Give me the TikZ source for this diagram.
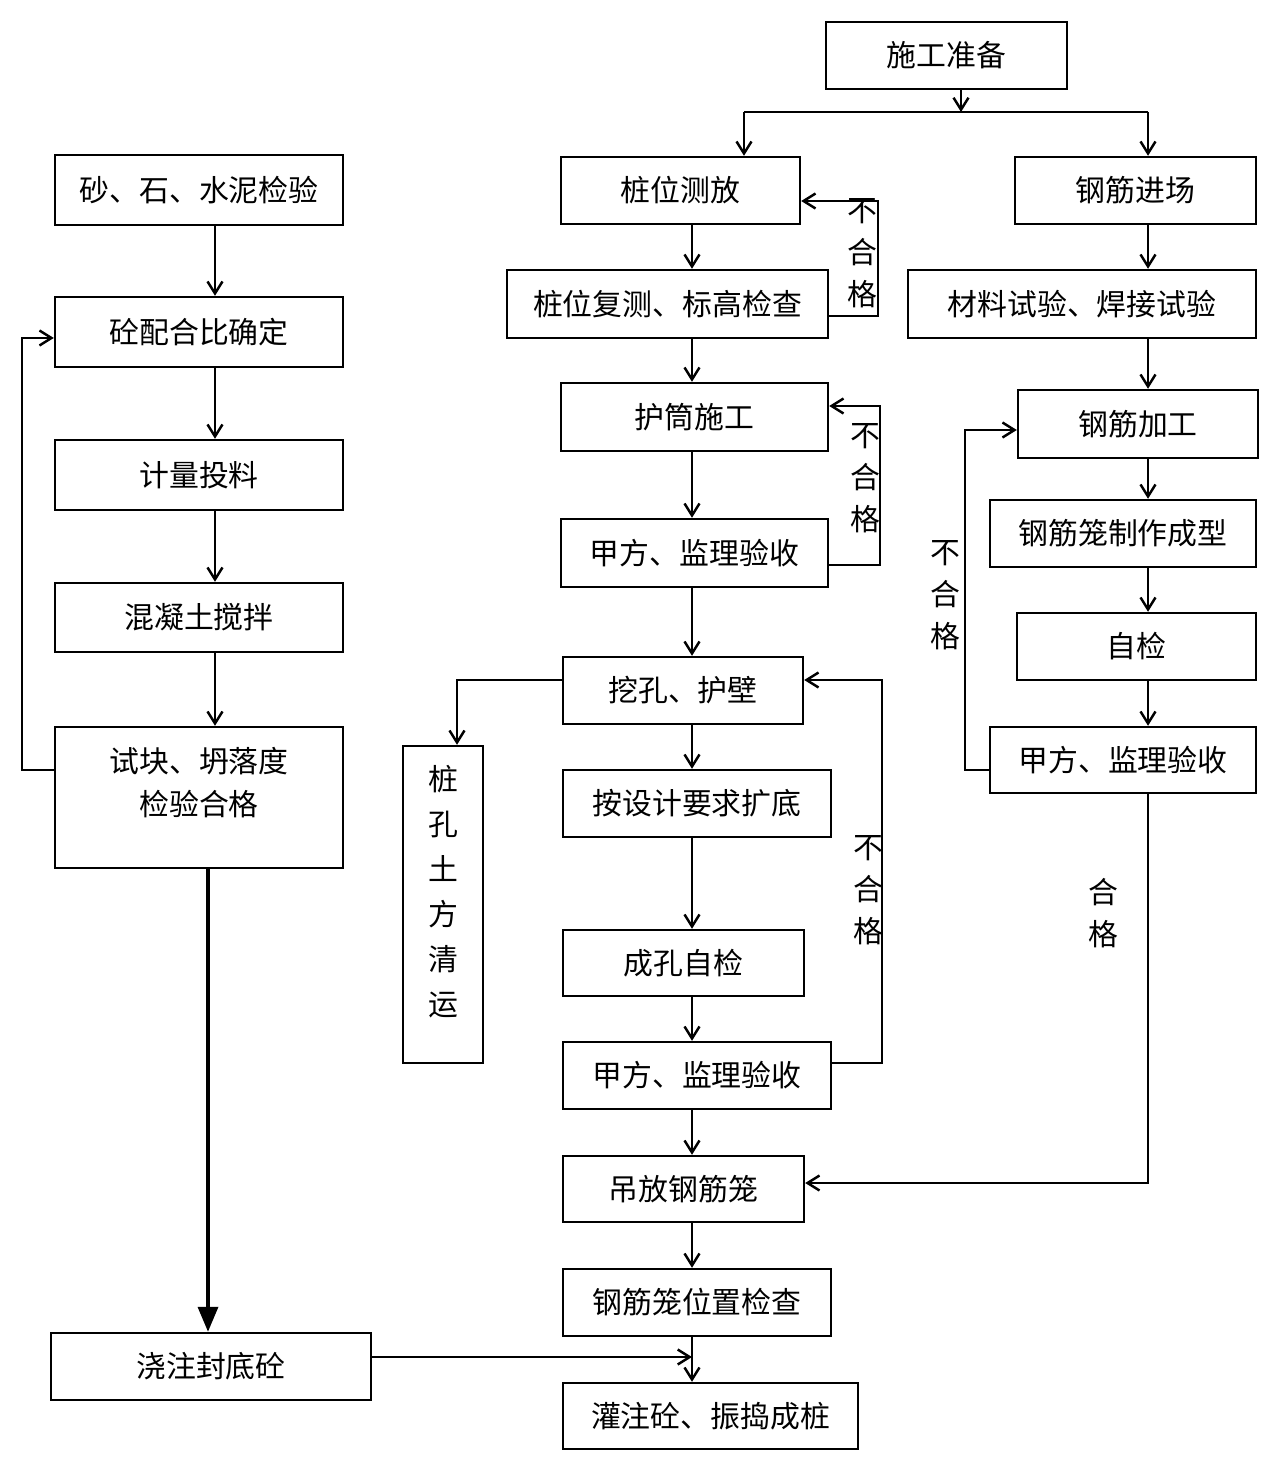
\documentclass[tikz,border=0pt]{standalone}
\usepackage{fontspec}
\newfontfamily\zh{Noto Sans CJK SC}
\usetikzlibrary{arrows.meta}
\tikzset{
  box/.style={draw,line width=1.4pt,inner sep=0pt,align=center,font=\zh\fontsize{17}{20}\selectfont},
  lbl/.style={inner sep=0pt,align=center,font=\zh\fontsize{17}{24}\selectfont},
}
\begin{document}
\begin{tikzpicture}[x=0.02cm,y=-0.02cm,line width=1.4pt,>={Straight Barb[length=2.4mm,width=3mm]}]
\useasboundingbox (0,0) rectangle (1280,1469);
% boxes
\node[box,minimum width=4.82cm,minimum height=1.34cm] (sgzb) at (946.5,55.5) {施工准备};
\node[box,minimum width=4.78cm,minimum height=1.34cm] (zwcf) at (680.5,190.5) {桩位测放};
\node[box,minimum width=4.82cm,minimum height=1.34cm] (gjjc) at (1135.5,190.5) {钢筋进场};
\node[box,minimum width=5.76cm,minimum height=1.40cm] (ssn) at (199,190) {砂、石、水泥检验};
\node[box,minimum width=5.76cm,minimum height=1.40cm] (phb) at (199,332) {砼配合比确定};
\node[box,minimum width=5.76cm,minimum height=1.40cm] (jltl) at (199,475) {计量投料};
\node[box,minimum width=5.76cm,minimum height=1.38cm] (hnt) at (199,617.5) {混凝土搅拌};
\node[box,minimum width=5.76cm,minimum height=2.82cm] (skt) at (199,797.5) {};
\node[lbl,font=\zh\fontsize{17}{24.5}\selectfont] (sktt) at (199,783) {试块、坍落度\\检验合格};
\node[box,minimum width=6.40cm,minimum height=1.34cm] (jzfd) at (211,1366.5) {浇注封底砼};
\node[box,minimum width=6.42cm,minimum height=1.36cm] (zwfc) at (667.5,304) {桩位复测、标高检查};
\node[box,minimum width=6.96cm,minimum height=1.36cm] (clsy) at (1082,304) {材料试验、焊接试验};
\node[box,minimum width=5.34cm,minimum height=1.36cm] (htsg) at (694.5,417) {护筒施工};
\node[box,minimum width=4.80cm,minimum height=1.36cm] (gjjg) at (1138,424) {钢筋加工};
\node[box,minimum width=5.34cm,minimum height=1.36cm] (ysa) at (694.5,553) {甲方、监理验收};
\node[box,minimum width=5.32cm,minimum height=1.34cm] (gjlz) at (1123,533.5) {钢筋笼制作成型};
\node[box,minimum width=4.78cm,minimum height=1.34cm] (zj) at (1136.5,646.5) {自检};
\node[box,minimum width=5.32cm,minimum height=1.32cm] (ysc) at (1123,760) {甲方、监理验收};
\node[box,minimum width=4.80cm,minimum height=1.34cm] (wk) at (683,690.5) {挖孔、护壁};
\node[box,minimum width=1.60cm,minimum height=6.34cm] (tf) at (443,904.5) {};
\node[lbl,font=\zh\fontsize{17}{25.6}\selectfont] (tft) at (443,892) {桩\\孔\\土\\方\\清\\运};
\node[box,minimum width=5.36cm,minimum height=1.34cm] (kd) at (697,803.5) {按设计要求扩底};
\node[box,minimum width=4.82cm,minimum height=1.32cm] (ck) at (683.5,963) {成孔自检};
\node[box,minimum width=5.36cm,minimum height=1.34cm] (ysb) at (697,1075.5) {甲方、监理验收};
\node[box,minimum width=4.82cm,minimum height=1.32cm] (dfgjl) at (683.5,1189) {吊放钢筋笼};
\node[box,minimum width=5.36cm,minimum height=1.34cm] (wzjc) at (697,1302.5) {钢筋笼位置检查};
\node[box,minimum width=5.90cm,minimum height=1.32cm] (gz) at (710.5,1416) {灌注砼、振捣成桩};
% labels
\node[lbl] (bhg1) at (862,253) {不\\合\\格};
\node[lbl] (bhg2) at (865,478) {不\\合\\格};
\node[lbl] (bhg3) at (868,890) {不\\合\\格};
\node[lbl] (bhg4) at (945,595) {不\\合\\格};
\node[lbl] (hg) at (1103,913) {合\\格};
% helper coordinates
\coordinate (cx) at (692,0);
\coordinate (lx) at (215,0);
\coordinate (rx) at (1148,0);
\coordinate (fork) at (961,112);
\coordinate (tl) at (744,112);
\coordinate (tr) at (1148,112);
% top split
\draw[->] (sgzb.south -| fork) -- (fork);
\draw (tl) -- (tr);
\draw[->] (tl) -- (zwcf.north -| tl);
\draw[->] (tr) -- (gjjc.north -| tr);
% columns
\foreach \a/\b in {zwcf/zwfc,zwfc/htsg,htsg/ysa,ysa/wk,wk/kd,kd/ck,ck/ysb,ysb/dfgjl,dfgjl/wzjc,wzjc/gz}
  \draw[->] (\a.south -| cx) -- (\b.north -| cx);
\foreach \a/\b in {ssn/phb,phb/jltl,jltl/hnt,hnt/skt}
  \draw[->] (\a.south -| lx) -- (\b.north -| lx);
\foreach \a/\b in {gjjc/clsy,clsy/gjjg,gjjg/gjlz,gjlz/zj,zj/ysc}
  \draw[->] (\a.south -| rx) -- (\b.north -| rx);
\draw[line width=2pt,-{Triangle[length=5mm,width=4mm]}] (skt.south -| 208,0) -- (jzfd.north -| 208,0);
% feedback loops
\draw[->] (skt.west |- 0,770) -- (22,770) |- (phb.west |- 0,338);
\draw[->] (zwfc.east |- 0,316) -- (878,316) |- (zwcf.east |- 0,201);
\draw[->] (ysa.east |- 0,565) -- (880,565) |- (htsg.east |- 0,406);
\draw[->] (ysb.east |- 0,1063) -- (882,1063) |- (wk.east |- 0,680);
\draw[->] (ysc.west |- 0,770) -- (965,770) |- (gjjg.west |- 0,430);
\draw[->] (ysc.south -| rx) |- (dfgjl.east |- 0,1183);
\draw[->] (wk.west |- 0,680) -| (tf.north -| 457,0);
\coordinate (mj) at (692,1357);
\draw[->] (jzfd.east |- mj) -- (mj);
\end{tikzpicture}
\end{document}
